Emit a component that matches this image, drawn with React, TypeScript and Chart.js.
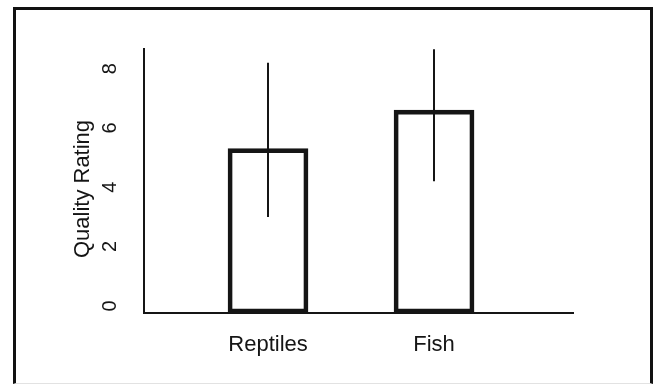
import React, { useEffect, useRef } from 'react';
import { Chart, registerables } from 'chart.js';

Chart.register(...registerables);

// ---- data ----
const categories = ['Reptiles', 'Fish'];
const categoryPositions = [1, 2];
const meanRatings = [5.3, 6.6];
const errorLow = [3.0, 4.2];
const errorHigh = [8.2, 8.65];
const yTickValues = [0, 2, 4, 6, 8];
const yAxisTitle = 'Quality Rating';

const Y_MIN = -0.24;
const Y_MAX = 8.66;
const X_MIN = 0.253;
const X_MAX = 2.837;

const INK = '#151515';
const FONT = '"Liberation Sans", Arial, sans-serif';

const errorBarPlugin = {
  id: 'errorBars',
  afterDatasetsDraw(chart: any) {
    const { ctx, scales } = chart;
    const x = scales.x;
    const y = scales.y;
    ctx.save();
    ctx.strokeStyle = INK;
    ctx.lineWidth = 2;
    categoryPositions.forEach((pos, i) => {
      const px = Math.round(x.getPixelForValue(pos));
      ctx.beginPath();
      ctx.moveTo(px, y.getPixelForValue(errorHigh[i]));
      ctx.lineTo(px, y.getPixelForValue(errorLow[i]));
      ctx.stroke();
    });
    ctx.restore();
  },
};

export default function App() {
  const canvasRef = useRef<HTMLCanvasElement | null>(null);

  useEffect(() => {
    const canvas = canvasRef.current;
    if (!canvas) return;
    const chart = new Chart(canvas, {
      type: 'bar',
      data: {
        datasets: [
          {
            data: categoryPositions.map((x, i) => ({ x, y: meanRatings[i] })),
            backgroundColor: 'rgba(255,255,255,0)',
            borderColor: INK,
            borderWidth: 4,
            borderSkipped: false,
            barThickness: 80,
            base: Y_MIN,
          } as any,
        ],
      },
      options: {
        animation: false,
        responsive: false,
        devicePixelRatio: 1,
        events: [],
        layout: { padding: { left: 60, right: 83, top: 0, bottom: 7 } },
        plugins: {
          legend: { display: false },
          tooltip: { enabled: false },
          title: {
            display: true,
            position: 'left',
            text: yAxisTitle,
            color: INK,
            font: { family: FONT, size: 22, weight: 'normal' },
            padding: { top: 10, bottom: 0 },
            fullSize: true,
          },
        },
        scales: {
          x: {
            type: 'linear',
            min: X_MIN,
            max: X_MAX,
            offset: false,
            bounds: 'data',
            grid: { display: false, drawTicks: false, offset: false },
            border: { display: true, color: INK, width: 2 },
            afterBuildTicks: (axis: any) => {
              axis.ticks = categoryPositions.map((v) => ({ value: v }));
            },
            afterFit: (scale: any) => {
              scale.height = 65;
            },
            ticks: {
              autoSkip: false,
              maxRotation: 0,
              minRotation: 0,
              padding: 19,
              color: INK,
              font: { family: FONT, size: 22 },
              callback: (v: any) => {
                const idx = categoryPositions.indexOf(Number(v));
                return idx >= 0 ? categories[idx] : '';
              },
            },
          },
          xTop: {
            type: 'linear',
            position: 'top',
            display: true,
            min: 0,
            max: 1,
            grid: { display: false, drawTicks: false },
            border: { display: false },
            ticks: { display: false },
            afterFit: (scale: any) => {
              scale.height = 49;
            },
          },
          y: {
            type: 'linear',
            min: Y_MIN,
            max: Y_MAX,
            grid: { display: false, drawTicks: false },
            border: { display: true, color: INK, width: 2 },
            afterBuildTicks: (axis: any) => {
              axis.ticks = yTickValues.map((v) => ({ value: v }));
            },
            afterFit: (scale: any) => {
              scale.width = 47.6;
            },
            ticks: {
              autoSkip: false,
              minRotation: 90,
              maxRotation: 90,
              crossAlign: 'center',
              padding: 28,
              color: INK,
              font: { family: FONT, size: 20 },
            },
          },
        },
      },
      plugins: [errorBarPlugin],
    } as any);
    return () => chart.destroy();
  }, []);

  return (
    <div style={{ position: 'fixed', left: 0, top: 0, width: 656, height: 385, background: '#fff' }}>
      <div
        style={{
          position: 'absolute',
          left: 13,
          top: 7,
          width: 640,
          height: 377,
          boxSizing: 'border-box',
          borderTop: '3px solid #111',
          borderLeft: '3px solid #111',
          borderRight: '3px solid #111',
          borderBottom: '1px solid #e2e2e2',
        }}
      />
      <canvas
        ref={canvasRef}
        width={656}
        height={385}
        style={{ position: 'absolute', left: 0, top: 0, display: 'block' }}
      />
    </div>
  );
}
